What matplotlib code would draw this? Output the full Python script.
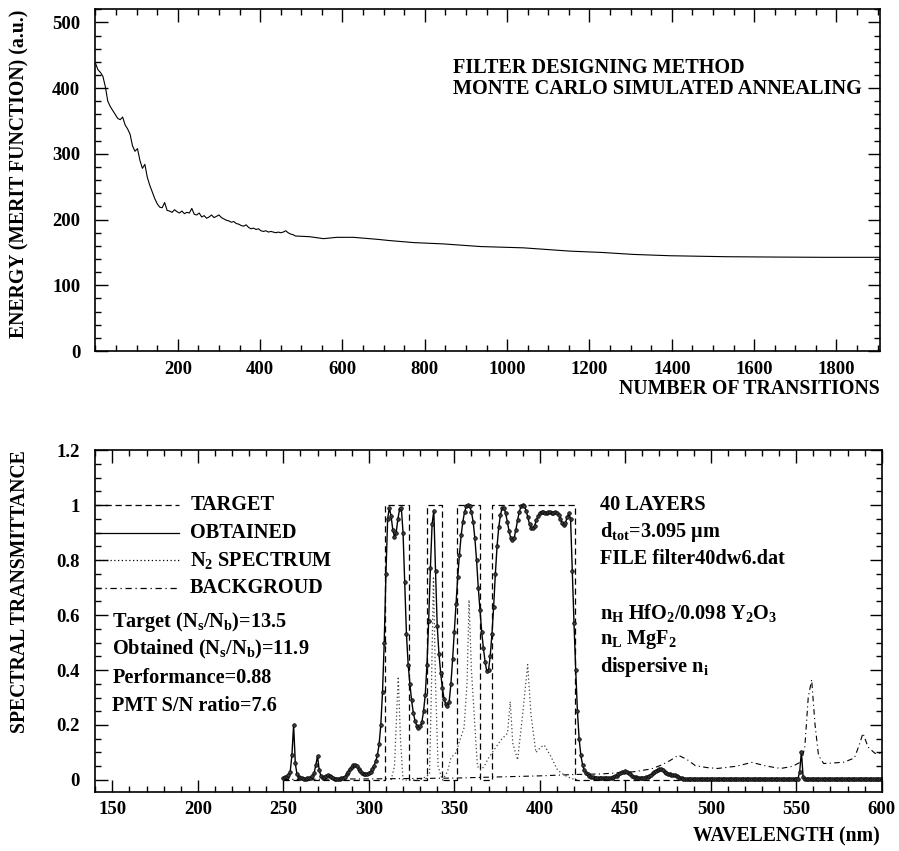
import numpy as np
import matplotlib
matplotlib.use("Agg")
import matplotlib.pyplot as plt
from matplotlib.ticker import MultipleLocator, FuncFormatter

plt.rcParams['font.family'] = ['Liberation Serif', 'DejaVu Serif']
plt.rcParams['font.weight'] = 'bold'
plt.rcParams['mathtext.fontset'] = 'custom'
plt.rcParams['mathtext.rm'] = 'Liberation Serif:bold'
plt.rcParams['mathtext.it'] = 'Liberation Serif:bold'
plt.rcParams['mathtext.bf'] = 'Liberation Serif:bold'
plt.rcParams['mathtext.default'] = 'rm'

# --- top panel: energy during annealing ---
transitions = [0, 6, 12, 18, 24, 30, 36, 42, 48, 54, 60, 66, 72, 78, 84, 90, 96, 102,
               108, 114, 120, 126, 132, 138, 144, 150, 156, 162, 168, 174, 180, 186,
               192, 198, 204, 210, 216, 222, 228, 234, 240, 246, 252, 258, 264, 270,
               276, 282, 288, 294, 300, 306, 312, 318, 324, 330, 336, 342, 348, 354,
               360, 366, 372, 378, 384, 390, 396, 402, 408, 414, 420, 426, 432, 438,
               444, 450, 456, 462, 468, 474, 480, 486, 520, 554, 586, 627, 684, 716,
               773, 845, 935, 1040, 1153, 1230, 1307, 1396, 1534, 1650, 1769, 1905]
energy = [438, 428, 424, 418, 402, 380, 372, 366, 360, 354, 352, 356, 344, 338, 330,
          312, 304, 308, 290, 278, 284, 264, 252, 242, 232, 224, 219, 218, 226, 214,
          213, 211, 215, 212, 210, 213, 209, 211, 210, 217, 208, 207, 210, 204, 206,
          202, 204, 207, 203, 205, 207, 203, 201, 199, 198, 196, 197, 194, 193, 191,
          190, 192, 188, 186, 187, 185, 186, 183, 182, 183, 181, 182, 181, 180, 181,
          180, 181, 183, 180, 178, 177, 175, 174, 171, 173, 173, 170, 168, 165, 163,
          159, 157, 152, 150, 147, 145, 143.5, 143, 142.6, 142.6]

# --- bottom panel: spectra ---
wl_start, wl_stop = 250, 600
obtained = [
    0.008, 0.010, 0.012, 0.018, 0.030, 0.090, 0.200, 0.060, 0.020, 0.012,   # 250
    0.008, 0.006, 0.005, 0.005, 0.006, 0.007, 0.009, 0.013, 0.025, 0.055,   # 260
    0.087, 0.035, 0.014, 0.009, 0.010, 0.014, 0.018, 0.016, 0.010, 0.006,   # 270
    0.004, 0.003, 0.004, 0.005, 0.007, 0.009, 0.012, 0.020, 0.030, 0.040,   # 280
    0.048, 0.055, 0.056, 0.050, 0.040, 0.032, 0.026, 0.022, 0.021, 0.022,   # 290
    0.025, 0.030, 0.040, 0.052, 0.068, 0.090, 0.130, 0.200, 0.320, 0.500,   # 300
    0.750, 0.950, 0.990, 0.960, 0.910, 0.885, 0.900, 0.950, 0.985, 0.990,   # 310
    0.900, 0.720, 0.530, 0.420, 0.350, 0.290, 0.245, 0.215, 0.198, 0.190,   # 320
    0.195, 0.210, 0.250, 0.310, 0.420, 0.580, 0.770, 0.930, 0.980, 0.760,   # 330
    0.560, 0.460, 0.390, 0.335, 0.295, 0.275, 0.270, 0.285, 0.350, 0.440,   # 340
    0.540, 0.640, 0.740, 0.820, 0.890, 0.940, 0.975, 0.995, 1.000, 0.995,   # 350
    0.975, 0.940, 0.880, 0.800, 0.700, 0.620, 0.540, 0.480, 0.430, 0.395,   # 360
    0.400, 0.450, 0.530, 0.630, 0.750, 0.850, 0.920, 0.965, 0.990, 0.990,   # 370
    0.970, 0.940, 0.905, 0.880, 0.873, 0.880, 0.910, 0.945, 0.975, 0.995,   # 380
    1.000, 0.995, 0.980, 0.955, 0.930, 0.918, 0.915, 0.925, 0.945, 0.960,   # 390
    0.970, 0.975, 0.975, 0.972, 0.970, 0.975, 0.975, 0.972, 0.972, 0.975,   # 400
    0.972, 0.965, 0.950, 0.935, 0.927, 0.935, 0.955, 0.970, 0.950, 0.760,   # 410
    0.570, 0.400, 0.250, 0.150, 0.090, 0.055, 0.036, 0.026, 0.020, 0.015,   # 420
    0.012, 0.010, 0.009, 0.008, 0.007, 0.007, 0.006, 0.006, 0.006, 0.006,   # 430
    0.007, 0.008, 0.009, 0.011, 0.013, 0.016, 0.020, 0.024, 0.028, 0.030,   # 440
    0.031, 0.030, 0.026, 0.021, 0.016, 0.012, 0.010, 0.009, 0.008, 0.008,   # 450
    0.008, 0.009, 0.010, 0.012, 0.014, 0.018, 0.025, 0.030, 0.034, 0.038,   # 460
    0.040, 0.040, 0.036, 0.030, 0.025, 0.022, 0.020, 0.019, 0.018, 0.017,   # 470
    0.015, 0.012, 0.009, 0.006, 0.004, 0.003, 0.002, 0.002, 0.002, 0.002,   # 480
    0.002, 0.002, 0.002, 0.002, 0.002, 0.002, 0.002, 0.002, 0.002, 0.002,   # 490
    0.002, 0.002, 0.002, 0.002, 0.002, 0.002, 0.002, 0.002, 0.002, 0.002,   # 500
    0.002, 0.002, 0.002, 0.002, 0.002, 0.002, 0.002, 0.002, 0.002, 0.002,   # 510
    0.002, 0.002, 0.002, 0.002, 0.002, 0.002, 0.002, 0.002, 0.002, 0.002,   # 520
    0.002, 0.002, 0.002, 0.002, 0.002, 0.002, 0.002, 0.002, 0.002, 0.002,   # 530
    0.002, 0.002, 0.002, 0.002, 0.002, 0.002, 0.002, 0.002, 0.002, 0.002,   # 540
    0.002, 0.005, 0.030, 0.103, 0.012, 0.003, 0.002, 0.002, 0.002, 0.002,   # 550
    0.002, 0.002, 0.002, 0.002, 0.002, 0.002, 0.002, 0.002, 0.002, 0.002,   # 560
    0.002, 0.002, 0.002, 0.002, 0.002, 0.002, 0.002, 0.002, 0.002, 0.002,   # 570
    0.002, 0.002, 0.002, 0.002, 0.002, 0.002, 0.002, 0.002, 0.002, 0.002,   # 580
    0.002, 0.002, 0.002, 0.002, 0.002, 0.002, 0.002, 0.002, 0.002, 0.002,   # 590
    0.002]                                                                     # 600
wavelength = np.arange(wl_start, wl_stop + 1, 1)

# target pass bands (nm)
band_lo = [309.2, 334.3, 351.4, 372.3]
band_hi = [323.5, 342.6, 365.0, 420.8]

n2_wl = [313, 315, 316, 317.2, 318.5, 320, 330, 335.5, 336.5, 337.8, 339, 340.5, 343,
         346, 348, 351, 353, 355.7, 357.5, 358.6, 360, 361.6, 363.5, 365.5, 367.5, 370,
         373.3, 377.2, 381.1, 382.7, 384.2, 387, 390, 392.9, 394.8, 397.7, 400.7,
         402.6, 406.5, 410.4, 414.3, 418.2, 422]
n2_spec = [0.0, 0.05, 0.2, 0.376, 0.15, 0.0, 0.0, 0.02, 0.3, 0.74, 0.35, 0.05, 0.0,
           0.03, 0.08, 0.1, 0.14, 0.19, 0.36, 0.655, 0.4, 0.24, 0.05, 0.036, 0.05, 0.08,
           0.11, 0.145, 0.17, 0.285, 0.133, 0.073, 0.24, 0.42, 0.24, 0.1, 0.12, 0.127,
           0.085, 0.036, 0.018, 0.006, 0.0]

bg_wl = [250, 300, 350, 400, 420, 436, 455, 465, 471, 476, 481, 486, 491, 498, 504,
         515, 524, 533, 541, 548, 553, 555, 557, 559, 561, 563, 566, 572, 578, 584,
         587, 589, 592, 596, 600]
background = [0.002, 0.004, 0.007, 0.015, 0.02, 0.022, 0.03, 0.04, 0.054, 0.07, 0.09,
              0.075, 0.052, 0.045, 0.042, 0.05, 0.064, 0.05, 0.042, 0.05, 0.067, 0.12,
              0.3, 0.365, 0.2, 0.09, 0.06, 0.062, 0.065, 0.08, 0.13, 0.17, 0.12, 0.097,
              0.097]

legend_labels = ['TARGET', 'OBTAINED', 'N$_2$ SPECTRUM', 'BACKGROUD']
left_notes = ['Target (N$_s$/N$_b$)=13.5', 'Obtained (N$_s$/N$_b$)=11.9',
              'Performance=0.88', 'PMT S/N ratio=7.6']
right_notes = ['40 LAYERS', 'd$_{tot}$=3.095 \u03bcm', 'FILE filter40dw6.dat', '',
               'n$_H$ HfO$_2$/0.098 Y$_2$O$_3$', 'n$_L$ MgF$_2$', 'dispersive n$_i$']

FS_TICK = 13.5
FS_LAB = 14.2
FS_NOTE = 14.6


def style_axis(ax):
    for s in ax.spines.values():
        s.set_linewidth(1.2)
    ax.tick_params(which='both', direction='in', top=True, right=True,
                   labelsize=FS_TICK, width=1.0)
    ax.tick_params(which='major', length=9)
    ax.tick_params(which='minor', length=4.5)
    ax.tick_params(axis='y', pad=11)
    ax.tick_params(axis='x', pad=7)
    ax.yaxis.set_major_formatter(FuncFormatter(lambda v, p: '%g' % round(v, 3)))


fig = plt.figure(figsize=(8.99, 8.51), dpi=100)

# top panel
ax1 = fig.add_axes([0.1062, 0.5875, 0.8728, 0.4016])
ax1.plot(transitions, energy, color='black', lw=0.8)
ax1.set_xlim(0, 1906)
ax1.set_ylim(0, 520)
ax1.xaxis.set_major_locator(MultipleLocator(200))
ax1.xaxis.set_minor_locator(MultipleLocator(50))
ax1.yaxis.set_major_locator(MultipleLocator(100))
ax1.yaxis.set_minor_locator(MultipleLocator(20))
style_axis(ax1)
ax1.set_xticks([t for t in range(200, 1801, 200)])
ax1.text(0.456, 0.829, 'FILTER DESIGNING METHOD', transform=ax1.transAxes,
         fontsize=FS_NOTE, va='center')
ax1.text(0.456, 0.768, 'MONTE CARLO SIMULATED ANNEALING', transform=ax1.transAxes,
         fontsize=FS_NOTE, va='center')
fig.text(880 / 899, 1 - 389 / 851, 'NUMBER OF TRANSITIONS', ha='right', va='center',
         fontsize=FS_LAB)
fig.text(19 / 899, 1 - 10 / 851, 'ENERGY (MERIT FUNCTION) (a.u.)', rotation=90,
         ha='center', va='top', fontsize=FS_LAB)

# bottom panel
ax2 = fig.add_axes([0.1060, 0.0697, 0.8748, 0.4015])

tx = [wl_start]
ty = [0]
for lo, hi in zip(band_lo, band_hi):
    tx += [lo, lo, hi, hi]
    ty += [0, 1, 1, 0]
tx.append(wl_stop)
ty.append(0)

ax2.plot(tx, ty, color='black', lw=0.9, ls=(0, (5, 3)))
ax2.plot(n2_wl, n2_spec, color='#444444', lw=0.9, ls=(0, (1, 2)))
ax2.plot(bg_wl, background, color='black', lw=0.8, ls=(0, (5, 3, 1, 3)))
ax2.plot(wavelength, obtained, color='black', lw=1.0, marker='o', ms=2.6,
         mfc='#3a3a3a', mec='black', mew=0.5)

ax2.set_xlim(140, 600)
ax2.set_ylim(-0.0425, 1.2)
ax2.xaxis.set_major_locator(MultipleLocator(50))
ax2.xaxis.set_minor_locator(MultipleLocator(10))
ax2.yaxis.set_major_locator(MultipleLocator(0.2))
ax2.yaxis.set_minor_locator(MultipleLocator(0.05))
style_axis(ax2)

# legend keys
key_styles = [dict(ls=(0, (5, 3))), dict(ls='-'), dict(ls=(0, (1, 2))),
              dict(ls=(0, (5, 3, 1, 3)))]
for i, (lab, st) in enumerate(zip(legend_labels, key_styles)):
    yk = 1.0 - 0.1 * i
    ax2.plot([140, 189], [yk, yk], color='black', lw=0.9, **st)
    ax2.text(195.5, yk, lab, fontsize=FS_NOTE, va='center')

for i, note in enumerate(left_notes):
    ax2.text(150, 0.575 - 0.102 * i, note, fontsize=FS_NOTE, va='center')

for i, note in enumerate(right_notes):
    ax2.text(435.3, 1.0 - 0.098 * i, note, fontsize=FS_NOTE, va='center')

fig.text(880 / 899, 1 - 836 / 851, 'WAVELENGTH (nm)', ha='right', va='center',
         fontsize=FS_LAB)
fig.text(20 / 899, 1 - 450 / 851, 'SPECTRAL TRANSMITTANCE', rotation=90,
         ha='center', va='top', fontsize=FS_LAB)

fig.savefig('out.png', dpi=100)
